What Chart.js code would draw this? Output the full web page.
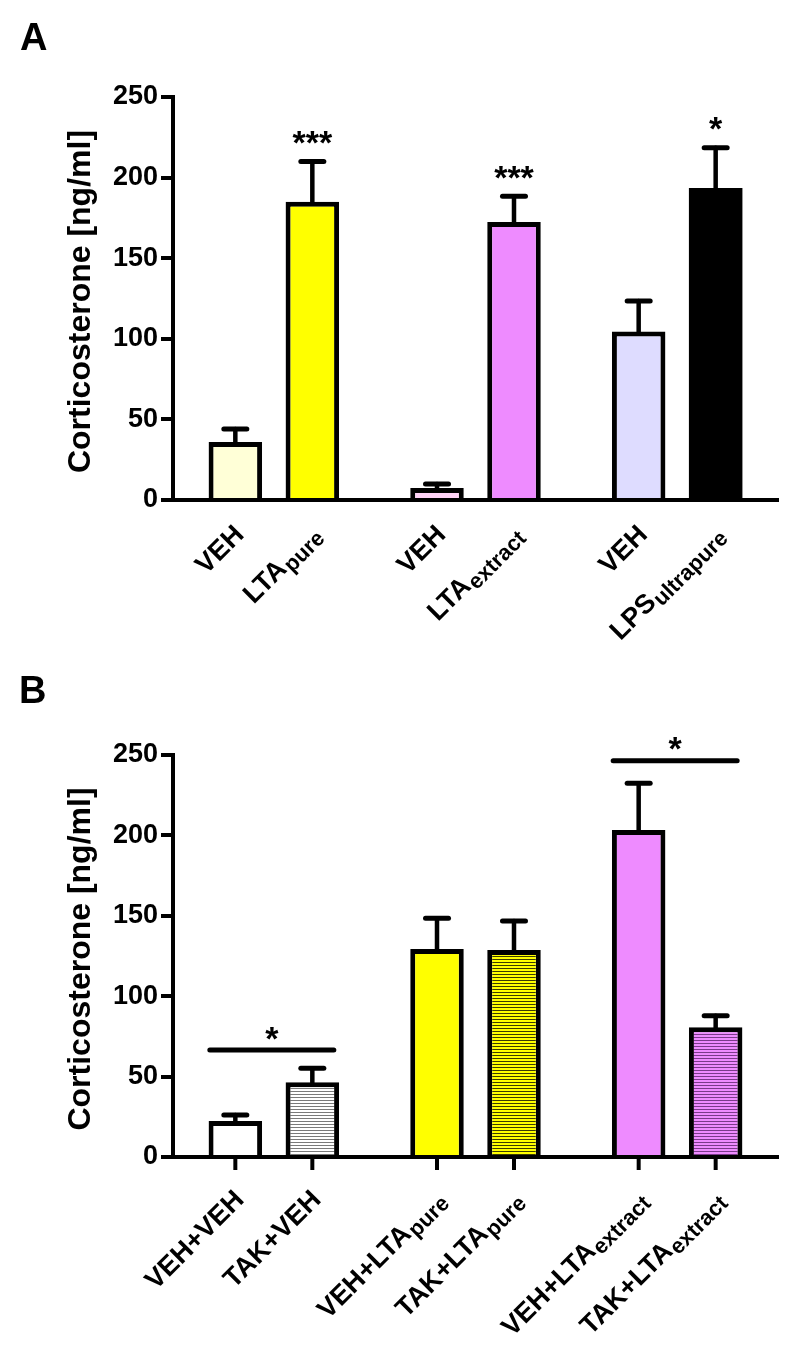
<!DOCTYPE html>
<html><head><meta charset="utf-8">
<script src="https://cdn.jsdelivr.net/npm/chart.js@4.4.1/dist/chart.umd.min.js"></script>
<style>
html,body{margin:0;padding:0;background:#fff;}
#wrap{position:relative;width:800px;height:1367px;overflow:hidden;background:#fff;}
canvas{position:absolute;left:0;}
</style></head><body>
<div id="wrap">
<canvas id="cA" width="800" height="650" style="top:0;width:800px;height:650px"></canvas>
<canvas id="cB" width="800" height="717" style="top:650px;width:800px;height:717px"></canvas>
</div>
<script>
// ---------- Panel A data ----------
const aGroups = ['LTA pure', 'LTA extract', 'LPS ultrapure'];
const aVehMean = [36, 7.5, 104.5];
const aVehSem  = [8, 2.5, 19];
const aTrtMean = [185, 172.5, 193.5];
const aTrtSem  = [25, 16, 25];
const aVehLabels = [['VEH',''],['VEH',''],['VEH','']];
const aTrtLabels = [['LTA','pure'],['LTA','extract'],['LPS','ultrapure']];
const aStars = ['***','***','*'];

// ---------- Panel B data ----------
const bGroups = ['VEH', 'LTA pure', 'LTA extract'];
const bVehMean = [22.4, 129.4, 203.4];
const bVehSem  = [3.7, 19, 29];
const bTakMean = [46.5, 128.7, 80.7];
const bTakSem  = [8.7, 18.1, 7.2];
const bVehLabels = [['VEH+VEH',''],['VEH+LTA','pure'],['VEH+LTA','extract']];
const bTakLabels = [['TAK+VEH',''],['TAK+LTA','pure'],['TAK+LTA','extract']];
const bSigLevel = [66.5, null, 246.5];
const bSigText  = ['*', '', '*'];

const yTicks = [0, 50, 100, 150, 200, 250];
const yTitle = 'Corticosterone [ng/ml]';

const FAM = "'Liberation Sans', Arial, Helvetica, sans-serif";
Chart.defaults.font.family = FAM;
Chart.defaults.color = '#000';
const LABEL_ANGLE = 45 * Math.PI / 180;

function hatch(ctx, bg, line) {
  const c = document.createElement('canvas');
  c.width = 4; c.height = 3;
  const g = c.getContext('2d');
  g.fillStyle = bg; g.fillRect(0, 0, 4, 3);
  g.fillStyle = line; g.fillRect(0, 0, 4, 1);
  return ctx.createPattern(c, 'repeat');
}

function drawLabel(ctx, x, y, main, sub) {
  const mainFont = 'bold 27px ' + FAM, subFont = 'bold 22px ' + FAM;
  ctx.save();
  ctx.translate(x, y);
  ctx.rotate(-LABEL_ANGLE);
  ctx.font = subFont; const sw = sub ? ctx.measureText(sub).width + 1 : 0;
  ctx.font = mainFont; const mw = ctx.measureText(main).width;
  ctx.textAlign = 'left'; ctx.textBaseline = 'alphabetic';
  ctx.fillText(main, -(mw + sw), 0);
  if (sub) { ctx.font = subFont; ctx.fillText(sub, -sw + 1, 5); }
  ctx.restore();
}

function drawStar(ctx, text, cx, cy) {
  ctx.save();
  ctx.font = 'bold 34px ' + FAM;
  ctx.textAlign = 'center'; ctx.textBaseline = 'alphabetic';
  const m = ctx.measureText(text);
  const y = cy + (m.actualBoundingBoxAscent - m.actualBoundingBoxDescent) / 2;
  ctx.fillText(text, cx, y);
  ctx.restore();
}

const overlay = {
  id: 'overlay',
  afterDatasetsDraw(chart, args, o) {
    const ctx = chart.ctx, ys = chart.scales.y, xs = chart.scales.x;
    const area = chart.chartArea;
    ctx.save();
    ctx.strokeStyle = '#000'; ctx.fillStyle = '#000'; ctx.lineCap = 'round';
    chart.data.datasets.forEach((ds, di) => {
      const meta = chart.getDatasetMeta(di);
      meta.data.forEach((el, i) => {
        const top = ys.getPixelForValue(ds.data[i]);
        const cap = ys.getPixelForValue(ds.data[i] + ds.sem[i]);
        ctx.lineWidth = 4.5;
        ctx.beginPath(); ctx.moveTo(el.x, top); ctx.lineTo(el.x, cap); ctx.stroke();
        ctx.lineWidth = 5;
        ctx.beginPath(); ctx.moveTo(el.x - 11.5, cap); ctx.lineTo(el.x + 11.5, cap); ctx.stroke();
        if (ds.stars && ds.stars[i]) drawStar(ctx, ds.stars[i], el.x, cap - 24);
        if (o.barTicks) {
          ctx.lineWidth = 4; ctx.lineCap = 'butt';
          ctx.beginPath(); ctx.moveTo(el.x, area.bottom); ctx.lineTo(el.x, area.bottom + 13); ctx.stroke();
          ctx.lineCap = 'round';
        }
        const lab = ds.xlabels[i];
        drawLabel(ctx, el.x + o.labelDx, area.bottom + o.labelDy, lab[0], lab[1]);
      });
    });
    if (o.sigLevel) {
      o.sigLevel.forEach((lv, gi) => {
        if (lv === null) return;
        const cx = xs.getPixelForValue(gi);
        const yy = ys.getPixelForValue(lv);
        ctx.lineWidth = 5; ctx.lineCap = 'round';
        ctx.beginPath(); ctx.moveTo(cx - 64, yy); ctx.lineTo(cx + 60, yy); ctx.stroke();
        drawStar(ctx, o.sigText[gi], cx - 2, yy - 17);
      });
    }
    // y title
    ctx.font = 'bold 32px ' + FAM;
    ctx.textAlign = 'center'; ctx.textBaseline = 'alphabetic';
    ctx.save();
    ctx.translate(90, (area.top + area.bottom) / 2 + 3);
    ctx.rotate(-Math.PI / 2);
    ctx.fillText(yTitle, 0, 0);
    ctx.restore();
    // panel letter
    ctx.font = 'bold 38px ' + FAM;
    ctx.textAlign = 'left';
    ctx.fillText(o.letter, o.letterX, o.letterY);
    ctx.restore();
  }
};

function makeChart(id, cfg) {
  const canvas = document.getElementById(id);
  const ctx = canvas.getContext('2d');
  return new Chart(ctx, {
    type: 'bar',
    data: { labels: cfg.groups, datasets: cfg.datasets(ctx) },
    options: {
      responsive: false, animation: false, events: [],
      layout: { padding: { top: cfg.padTop, right: 22, bottom: 0, left: 0 } },
      datasets: { bar: { categoryPercentage: 0.7636, barPercentage: 0.695, borderWidth: 5, borderColor: '#000', borderSkipped: 'start' } },
      plugins: { legend: { display: false }, tooltip: { enabled: false }, overlay: cfg.overlay },
      scales: {
        x: {
          z: 1,
          afterFit: s => { s.height = cfg.xHeight; },
          ticks: { display: false },
          grid: { display: false },
          border: { display: true, color: '#000', width: 4 }
        },
        y: {
          min: 0, max: 250,
          afterFit: s => { s.width = 173; },
          afterBuildTicks: s => { s.ticks = yTicks.map(v => ({ value: v })); },
          ticks: { font: { size: 27, weight: 'bold' }, color: '#000', padding: 3 },
          grid: { drawOnChartArea: false, drawTicks: true, tickLength: 12, lineWidth: 4, color: '#000' },
          border: { display: true, color: '#000', width: 4 }
        }
      }
    },
    plugins: [overlay]
  });
}

makeChart('cA', {
  groups: aGroups, padTop: 97, xHeight: 150,
  datasets: ctx => [
    { label: 'VEH', data: aVehMean, sem: aVehSem, xlabels: aVehLabels,
      backgroundColor: ['#FFFFD7', '#FFD2F6', '#DEDCFF'] },
    { label: 'Treatment', data: aTrtMean, sem: aTrtSem, xlabels: aTrtLabels, stars: aStars,
      borderWidth: [5, 5, 0],
      backgroundColor: ['#FFFF00', '#EE8BFF', '#000000'] }
  ],
  overlay: { letter: 'A', letterX: 20, letterY: 50, labelDx: 10, labelDy: 36, barTicks: false }
});

makeChart('cB', {
  groups: bGroups, padTop: 105, xHeight: 210,
  datasets: ctx => [
    { label: 'VEH', data: bVehMean, sem: bVehSem, xlabels: bVehLabels,
      backgroundColor: ['#FFFFFF', '#FFFF00', '#EE8BFF'] },
    { label: 'TAK', data: bTakMean, sem: bTakSem, xlabels: bTakLabels,
      backgroundColor: [hatch(ctx, '#FFFFFF', '#7A7A7A'), hatch(ctx, '#FFFF00', '#3C3C00'), hatch(ctx, '#EE8BFF', '#7A3A8A')] }
  ],
  overlay: { letter: 'B', letterX: 19, letterY: 53, labelDx: 10, labelDy: 44, barTicks: true, sigLevel: bSigLevel, sigText: bSigText }
});
</script>
</body></html>
